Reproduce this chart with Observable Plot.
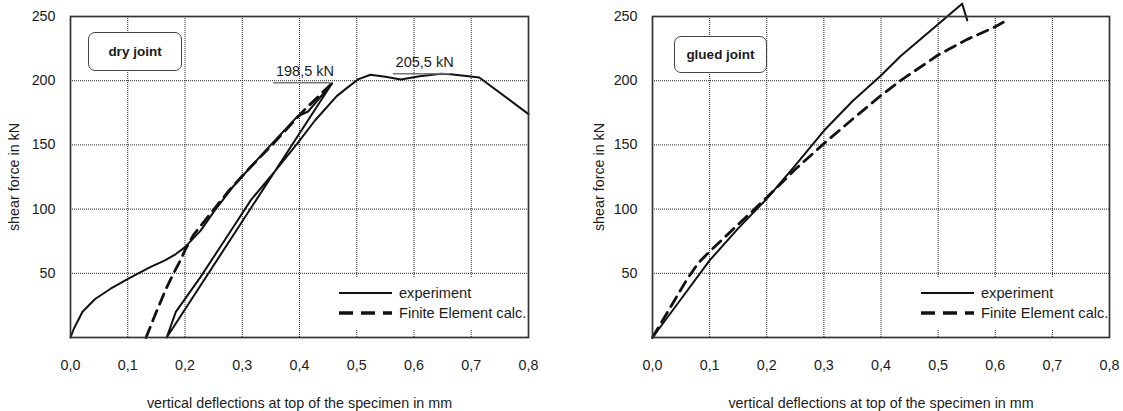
<!DOCTYPE html>
<html>
<head>
<meta charset="utf-8">
<script src="https://cdn.jsdelivr.net/npm/d3@7"></script>
<script src="https://cdn.jsdelivr.net/npm/@observablehq/plot@0.6"></script>
<style>
  body { margin: 0; background: #fff; }
  #wrap { position: relative; width: 1123px; height: 411px; display: flex; font-family: "Liberation Sans", Arial, sans-serif; color: #1a1a1a; }
  .tag { position: absolute; border: 1.5px solid #444; border-radius: 7px; background: #fff; font-weight: bold; font-size: 13.5px; display: flex; align-items: center; justify-content: center; box-sizing: border-box; }
  .legend { position: absolute; background: #fff; font-size: 14.6px; }
  .legend .row { position: absolute; left: 0; display: flex; align-items: center; height: 20px; white-space: nowrap; }
  .legend svg { display: block; margin-right: 7px; }
</style>
</head>
<body>
<div id="wrap"></div>
<script>
// ---- data ----
const xTicks = [0, 0.1, 0.2, 0.3, 0.4, 0.5, 0.6, 0.7, 0.8];
const yTicks = [50, 100, 150, 200, 250];
const gridXVals = [0.1, 0.2, 0.3, 0.4, 0.5, 0.6, 0.7];
const gridYVals = [50, 100, 150, 200];
const xTitle = "vertical deflections at top of the specimen in mm";
const yTitle = "shear force in kN";
const panelTitles = ["dry joint", "glued joint"];
const seriesNames = ["experiment", "Finite Element calc."];

// dry joint – experiment (loading, unloading, reloading)
const dryExpX = [0, 0.006, 0.021, 0.043, 0.07, 0.102, 0.14, 0.165, 0.184, 0.199, 0.227, 0.252, 0.283, 0.315, 0.352, 0.396, 0.415, 0.457,
                 0.168,
                 0.184, 0.227, 0.277, 0.315, 0.358, 0.396, 0.427, 0.465, 0.482, 0.502, 0.524, 0.55, 0.577, 0.61, 0.647, 0.664, 0.714, 0.8];
const dryExpY = [0, 7, 20, 30, 38, 46, 55, 60, 65, 70, 83, 99, 117, 133, 151, 172, 176, 198,
                 0,
                 20, 47, 81, 107, 130, 151, 169, 188, 194, 201, 204.6, 203, 201, 203.5, 205.4, 205, 202.5, 174];
// dry joint – finite element calculation
const dryFeX = [0.132, 0.15, 0.167, 0.18, 0.192, 0.2, 0.215, 0.24, 0.277, 0.315, 0.352, 0.408, 0.458];
const dryFeY = [0, 20, 38, 50, 60, 68, 80, 94, 114.5, 133, 150, 177, 198.5];
// dry joint – annotated peaks
const peakX = [0.455, 0.664];
const peakY = [198.5, 205.5];
const peakLabels = ["198,5 kN", "205,5 kN"];

// glued joint – experiment
const gluedExpX = [0, 0.05, 0.1, 0.15, 0.2, 0.25, 0.3, 0.35, 0.4, 0.434, 0.5, 0.542, 0.551];
const gluedExpY = [0, 30, 60, 85, 108, 134, 161, 184, 204, 219, 244, 260, 247];
// glued joint – finite element calculation
const gluedFeX = [0, 0.02, 0.04, 0.06, 0.08, 0.1, 0.15, 0.2, 0.25, 0.3, 0.35, 0.4, 0.434, 0.5, 0.55, 0.6, 0.614];
const gluedFeY = [0, 15, 30, 45, 58, 67, 88, 109, 131, 151, 170, 188.5, 200, 220, 232, 242, 245.5];

// ---- helpers ----
const zip = (xs, ys) => xs.map((x, i) => ({x, y: ys[i]}));
const fmtX = d => d.toFixed(1).replace(".", ",");
const FONT = "'Liberation Sans', Arial, Helvetica, sans-serif";

function panel({exp, fe, peaks, width, marginLeft, marginRight, yLabelOffset}) {
  const marks = [
    Plot.gridX(gridXVals, {stroke: "#222", strokeOpacity: 1, strokeDasharray: "1,1"}),
    Plot.gridY(gridYVals, {stroke: "#222", strokeOpacity: 1, strokeDasharray: "1,1"}),
    Plot.axisX({ticks: xTicks, tickSize: 0, tickPadding: 22, tickFormat: fmtX, fontSize: 14.3, fill: "#1a1a1a",
                label: xTitle, labelAnchor: "center", labelOffset: 70, labelArrow: "none"}),
    Plot.axisY({ticks: yTicks, tickSize: 0, tickPadding: 15, fontSize: 14.3, fill: "#1a1a1a",
                label: yTitle, labelAnchor: "center", labelOffset: yLabelOffset, labelArrow: "none"}),
    Plot.line(fe, {x: "x", y: "y", stroke: "#111", strokeWidth: 2.8, strokeDasharray: "11,7", strokeLinejoin: "round"}),
    Plot.line(exp, {x: "x", y: "y", stroke: "#111", strokeWidth: 2, strokeLinejoin: "round"})
  ];
  if (peaks) {
    marks.push(Plot.ruleY(peaks, {y: "y", x1: d => d.x - 0.1, x2: "x", stroke: "#777", strokeWidth: 1.5}));
    marks.push(Plot.text(peaks, {x: "x", y: "y", text: "label", dx: -26, dy: -11, fontSize: 14.5, fill: "#1a1a1a"}));
  }
  marks.push(Plot.frame({stroke: "#333", strokeWidth: 1.7}));
  return Plot.plot({
    width, height: 411,
    marginTop: 16, marginBottom: 74, marginLeft, marginRight,
    style: {fontFamily: FONT, fontSize: "14.5px", color: "#1a1a1a", background: "white", overflow: "visible"},
    x: {domain: [0, 0.8]},
    y: {domain: [0, 250]},
    marks
  });
}

const wrap = document.getElementById("wrap");
const peaks = peakX.map((x, i) => ({x, y: peakY[i], label: peakLabels[i]}));

wrap.appendChild(panel({exp: zip(dryExpX, dryExpY), fe: zip(dryFeX, dryFeY), peaks,
  width: 561, marginLeft: 70, marginRight: 33, yLabelOffset: 62}));
wrap.appendChild(panel({exp: zip(gluedExpX, gluedExpY), fe: zip(gluedFeX, gluedFeY), peaks: null,
  width: 562, marginLeft: 91, marginRight: 14, yLabelOffset: 59}));

// panel tags
function tag(text, left, top, w, h) {
  const d = document.createElement("div");
  d.className = "tag";
  d.textContent = text;
  Object.assign(d.style, {left: left + "px", top: top + "px", width: w + "px", height: h + "px"});
  wrap.appendChild(d);
}
tag(panelTitles[0], 88, 32, 94, 39);
tag(panelTitles[1], 674, 36, 93, 37);

// legends
function legend(left, top, w) {
  const d = document.createElement("div");
  d.className = "legend";
  Object.assign(d.style, {left: left + "px", top: top + "px", width: w + "px", height: "52px"});
  const rows = [
    {y: 5, dash: null, sw: 2},
    {y: 25, dash: "14,8", sw: 3.5}
  ];
  rows.forEach((r, i) => {
    const row = document.createElement("div");
    row.className = "row";
    row.style.top = r.y + "px";
    row.style.left = "6px";
    const svg = d3.create("svg").attr("width", 53).attr("height", 20);
    svg.append("line").attr("x1", 0).attr("x2", 53).attr("y1", 10).attr("y2", 10)
      .attr("stroke", "#111").attr("stroke-width", r.sw).attr("stroke-dasharray", r.dash);
    row.appendChild(svg.node());
    const s = document.createElement("span");
    s.textContent = seriesNames[i];
    row.appendChild(s);
    d.appendChild(row);
  });
  wrap.appendChild(d);
}
legend(333, 278, 194);
legend(915, 278, 192);
</script>
</body>
</html>
